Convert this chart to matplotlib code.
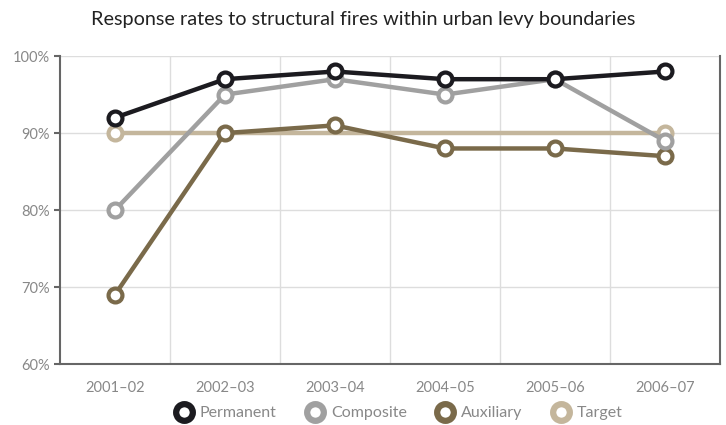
import matplotlib.pyplot as plt
import numpy as np

plt.rcParams['font.family'] = ['Lato', 'DejaVu Sans']

# Years and response rates (%)
years = ["2001\u201302", "2002\u201303", "2003\u201304", "2004\u201305", "2005\u201306", "2006\u201307"]
permanent = [92, 97, 98, 97, 97, 98]
composite = [80, 95, 97, 95, 97, 89]
auxiliary = [69, 90, 91, 88, 88, 87]
target = [90, 90, 90, 90, 90, 90]
y_ticks = [60, 70, 80, 90, 100]

fig = plt.figure(figsize=(7.26, 4.25), dpi=100)
ax = fig.add_axes([0.0826, 0.1435, 0.909, 0.7245])

x = np.arange(len(years))

# Target first so the others sit on top; it only gets markers at the ends
series = [
    ("Target", target, '#c4b69c', [0, len(years) - 1]),
    ("Auxiliary", auxiliary, '#7a6a4a', None),
    ("Composite", composite, '#a0a0a0', None),
    ("Permanent", permanent, '#1c1b20', None),
]
for name, vals, col, every in series:
    ax.plot(x, vals, color=col, linewidth=3.2, marker='o', markersize=10,
            markerfacecolor='white', markeredgecolor=col, markeredgewidth=3,
            markevery=every, zorder=3)

ax.set_xlim(-0.5, 5.5)
ax.set_ylim(60, 100)
ax.set_yticks(y_ticks)
ax.set_yticklabels([f"{v}%" for v in y_ticks])
ax.set_xticks(x)
ax.set_xticklabels(years)

# vertical grid between categories, horizontal at each tick
ax.set_xticks(np.arange(0.5, 5.5, 1), minor=True)
ax.grid(axis='x', which='minor', color='#dddddd', linewidth=1)
ax.grid(axis='y', which='major', color='#dddddd', linewidth=1)
ax.set_axisbelow(True)

for side in ['left', 'bottom', 'right']:
    ax.spines[side].set_color('#666666')
    ax.spines[side].set_linewidth(1.5)
ax.spines['top'].set_visible(False)

ax.tick_params(axis='x', which='both', length=0, pad=12, labelsize=10.5, labelcolor='#888888')
ax.tick_params(axis='y', length=4, width=1.5, color='#666666', pad=3, labelsize=10.5, labelcolor='#888888')

fig.suptitle("Response rates to structural fires within urban levy boundaries",
             x=0.5, y=0.975, fontsize=14.3, color='#222222')

# legend with chunky rings
handles = []
labels = []
for name, vals, col, every in series[::-1]:
    h, = ax.plot([], [], linestyle='none', marker='o', markersize=12,
                 markerfacecolor='white', markeredgecolor=col, markeredgewidth=4.5)
    handles.append(h)
    labels.append(name)
fig.legend(handles, labels, loc='center', bbox_to_anchor=(0.55, 0.028), ncol=4,
           frameon=False, fontsize=11.5, labelcolor='#888888', handletextpad=0.5,
           columnspacing=1.9, handlelength=1.0)

fig.savefig('out.png', dpi=100)
